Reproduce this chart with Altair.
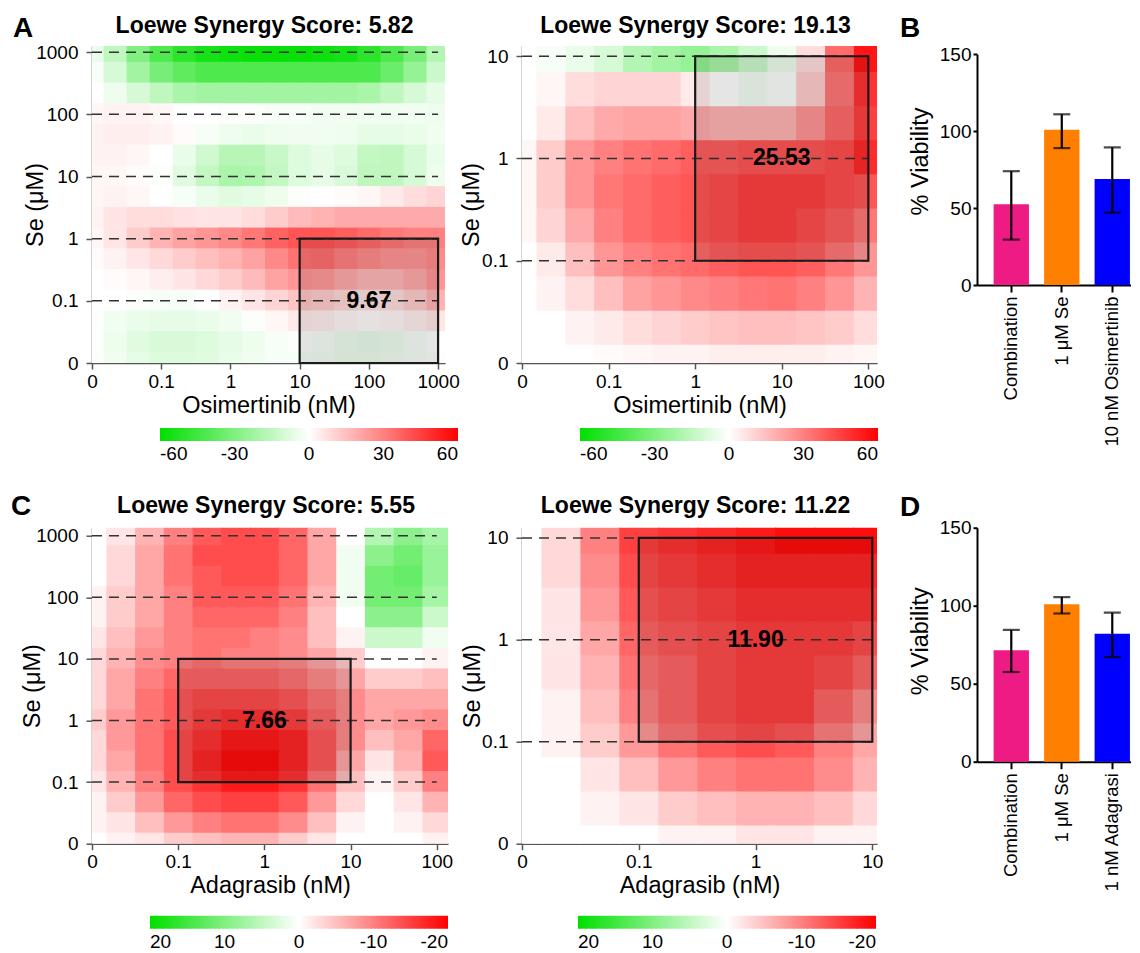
import altair as alt
import pandas as pd

FONT = "Liberation Sans"
GREEN = "#00E000"
RED = "#FF0000"
BAR_COLORS = ["#EF1B85", "#FF8000", "#0000FF"]

# ---------------- Panel A left: Se (0-1000 uM) x Osimertinib (0-1000 nM) -------------
a1_xlabels = ["0", "0.1", "1", "10", "100", "1000"]
a1_ylabels = ["0", "0.1", "1", "10", "100", "1000"]
# synergy surface read every third of a decade; rows from Se=1000 (top) down to Se=0
a1_z = [
    [-5, -15, -30, -42, -50, -55, -57, -58, -58, -58, -57, -55, -50, -42, -32, -18],
    [-2, -10, -22, -32, -38, -42, -42, -42, -42, -42, -42, -42, -42, -35, -25, -12],
    [0, -4, -10, -15, -20, -22, -22, -22, -22, -22, -22, -22, -20, -15, -10, -6],
    [2, 3, 3, 2, 0, 0, -1, -1, -2, -2, -3, -3, -3, -3, -3, -4],
    [3, 4, 4, 3, 1, -2, -4, -5, -4, -3, -3, -4, -6, -6, -5, -3],
    [3, 3, 2, 0, -5, -11, -17, -17, -13, -8, -6, -8, -14, -15, -10, -5],
    [2, 2, 1, -1, -7, -14, -20, -19, -14, -8, -6, -9, -15, -15, -10, -4],
    [2, 3, 2, 0, -2, -5, -7, -6, -4, -1, 0, 1, 2, 5, 8, 10],
    [3, 6, 8, 8, 7, 6, 6, 8, 12, 16, 18, 20, 20, 20, 20, 20],
    [2, 6, 12, 18, 22, 25, 28, 32, 37, 40, 40, 38, 35, 32, 30, 30],
    [1, 3, 6, 9, 12, 15, 18, 22, 28, 33, 34, 30, 27, 25, 25, 27],
    [0, 1, 2, 4, 6, 9, 12, 16, 22, 25, 24, 20, 17, 17, 20, 25],
    [0, 0, -1, -2, -2, 0, 3, 6, 10, 14, 12, 9, 7, 8, 12, 18],
    [-1, -3, -5, -6, -6, -5, -3, -1, 2, 5, 4, 2, 1, 2, 4, 6],
    [-1, -4, -7, -9, -9, -8, -6, -4, -2, -1, -2, -4, -5, -4, -2, 0],
    [-1, -3, -6, -8, -8, -7, -5, -3, -2, -2, -3, -4, -4, -3, -2, -1],
]
a1_step = 1 / 3
a1_box = ("10", "1000", "0", "1")
a1_box_label = "9.67"
a1_title = "Loewe Synergy Score: 5.82"

# ---------------- Panel A right: Se (0-10 uM) x Osimertinib (0-100 nM) ----------------
a2_xlabels = ["0", "0.1", "1", "10", "100"]
a2_ylabels = ["0", "0.1", "1", "10"]
# read every third of a decade; rows from Se=10 (top) down to Se=0
a2_z = [
    [0, -2, -5, -10, -18, -22, -25, -20, -12, -4, 8, 35, 55],
    [0, 2, 8, 10, 10, 10, 5, 0, -3, -1, 12, 32, 48],
    [0, 5, 15, 20, 22, 22, 20, 18, 18, 18, 25, 35, 45],
    [2, 12, 25, 30, 33, 35, 38, 38, 40, 40, 40, 42, 50],
    [2, 12, 25, 32, 35, 38, 40, 42, 45, 45, 45, 42, 40],
    [2, 10, 20, 30, 35, 38, 40, 42, 45, 45, 42, 38, 32],
    [0, 5, 15, 25, 30, 33, 35, 38, 40, 40, 38, 32, 25],
    [0, 3, 8, 15, 22, 25, 28, 30, 32, 33, 30, 25, 18],
    [0, 0, 3, 5, 8, 10, 12, 14, 15, 15, 14, 12, 8],
    [0, 0, 0, 1, 2, 3, 3, 4, 4, 4, 4, 3, 2],
]
a2_step = 1 / 3
a2_box = ("1", "100", "0.1", "10")
a2_box_label = "25.53"
a2_title = "Loewe Synergy Score: 19.13"

# ---------------- Panel C left: Se (0-1000 uM) x Adagrasib (0-100 nM) -----------------
c1_xlabels = ["0", "0.1", "1", "10", "100"]
c1_ylabels = ["0", "0.1", "1", "10", "100", "1000"]
c1_z = [
    [0, -2, -6, -10, -13, -14, -14, -12, -7, 0, 6, 9, 7],
    [0, -3, -7, -11, -14, -14, -14, -12, -7, 1, 9, 11, 8],
    [0, -3, -7, -11, -13, -14, -14, -12, -7, 1, 11, 12, 8],
    [-1, -4, -7, -10, -13, -13, -13, -11, -6, 1, 11, 11, 7],
    [-1, -4, -7, -10, -12, -12, -12, -10, -5, 0, 9, 9, 4],
    [-2, -5, -8, -10, -11, -11, -10, -9, -5, -1, 4, 4, 1],
    [-3, -6, -9, -10, -11, -10, -10, -9, -7, -4, 0, 0, -1],
    [-3, -7, -10, -12, -12, -12, -12, -11, -9, -7, -4, -4, -5],
    [-3, -7, -11, -13, -14, -14, -14, -13, -11, -9, -7, -7, -7],
    [-4, -8, -11, -13, -15, -16, -16, -15, -12, -9, -7, -8, -9],
    [-3, -8, -11, -14, -16, -18, -18, -17, -13, -9, -5, -7, -12],
    [-3, -7, -11, -14, -17, -19, -19, -17, -13, -7, -2, -6, -13],
    [-2, -6, -10, -14, -16, -18, -18, -16, -11, -5, -1, -4, -10],
    [-1, -4, -8, -12, -14, -15, -15, -13, -8, -3, 0, -2, -6],
    [-1, -2, -5, -8, -10, -11, -11, -9, -5, -1, 0, -1, -3],
    [0, -1, -2, -4, -5, -6, -6, -4, -2, 0, 0, 0, -1],
]
c1_step = 1 / 3
c1_box = ("0.1", "10", "0.1", "10")
c1_box_label = "7.66"
c1_title = "Loewe Synergy Score: 5.55"

# ---------------- Panel C right: Se (0-10 uM) x Adagrasib (0-10 nM) -------------------
c2_xlabels = ["0", "0.1", "1", "10"]
c2_ylabels = ["0", "0.1", "1", "10"]
c2_z = [
    [0, -3, -10, -15, -16, -17, -18, -19, -19, -19],
    [0, -3, -9, -14, -15, -16, -17, -17, -17, -17],
    [0, -2, -8, -13, -14, -15, -16, -16, -16, -16],
    [0, -2, -7, -12, -13, -14, -15, -15, -15, -14],
    [0, -2, -6, -11, -12, -14, -15, -15, -14, -12],
    [0, -1, -5, -10, -12, -14, -15, -15, -12, -9],
    [0, -1, -4, -8, -11, -13, -14, -13, -10, -7],
    [0, 0, -2, -5, -8, -10, -11, -11, -9, -6],
    [0, 0, -1, -2, -4, -5, -6, -6, -5, -3],
    [0, 0, 0, 0, -1, -1, -2, -2, -1, -1],
]
c2_step = 1 / 3
c2_box = ("0.1", "10", "0.1", "10")
c2_box_label = "11.90"
c2_title = "Loewe Synergy Score: 11.22"

# ---------------- Bar panels ----------------
b_cats = ["Combination", "1 μM Se", "10 nM Osimertinib"]
b_vals = [52.5, 101, 69]
b_lo = [29.5, 89, 47]
b_hi = [74, 111, 89.5]

d_cats = ["Combination", "1 μM Se", "1 nM Adagrasi"]
d_vals = [71.5, 101, 82]
d_lo = [57.5, 95, 67]
d_hi = [84.5, 105.5, 95.5]

EPS = 0.012


def cells_df(z, step):
    n = len(z)
    recs = []
    for i, row in enumerate(z):
        v = (n - 1 - i) * step
        for j, val in enumerate(row):
            u = j * step
            recs.append({"x": u - step / 2, "x2": u + step / 2 + EPS,
                         "y": v - step / 2, "y2": v + step / 2 + EPS, "z": val})
    return pd.DataFrame(recs)


def arr_expr(labels):
    return "[" + ",".join("'%s'" % s for s in labels) + "][datum.value]"


HEAT_AXIS = dict(domainColor="#555555", domainWidth=1.5, tickColor="#555555",
                 tickWidth=1.5, tickSize=6, labelFontSize=19, titleFontSize=23.5,
                 grid=False, labelFont=FONT, titleFont=FONT, labelColor="black",
                 titleColor="black", titleFontWeight="normal",
                 labelFlush=False, labelOverlap=False)


def text_layer(txt, px, py, size, align):
    return alt.Chart(pd.DataFrame({"t": [txt]})).mark_text(
        font=FONT, fontSize=size, fontWeight="bold", color="black", align=align,
        baseline="alphabetic").encode(x=alt.value(px), y=alt.value(py), text="t:N")


def heat_panel(z, step, xlabels, ylabels, xmax, ymax, w, h, title, xtitle,
               box, box_label, letter, letter_pos, cdomain, cvalues, legend_pos,
               title_offset, ytitle_x):
    nx = len(xlabels) - 1
    ny = len(ylabels) - 1
    xs = alt.Scale(domain=[0, xmax], nice=False, zero=False)
    ys = alt.Scale(domain=[0, ymax], nice=False, zero=False)
    xaxis = alt.Axis(values=list(range(nx + 1)), labelExpr=arr_expr(xlabels),
                     title=xtitle, labelPadding=3, titleBaseline="alphabetic",
                     titleY=49, **HEAT_AXIS)
    yaxis = alt.Axis(values=list(range(ny + 1)), labelExpr=arr_expr(ylabels),
                     title="Se (μM)", labelPadding=8, titleX=ytitle_x,
                     titleBaseline="bottom", **HEAT_AXIS)
    cells = cells_df(z, step)
    heat = alt.Chart(cells).mark_rect(clip=True).encode(
        x=alt.X("x:Q", scale=xs, axis=xaxis),
        x2="x2:Q",
        y=alt.Y("y:Q", scale=ys, axis=yaxis),
        y2="y2:Q",
        color=alt.Color(
            "z:Q",
            scale=alt.Scale(domain=cdomain, range=[GREEN, "#FFFFFF", RED], interpolate="rgb"),
            legend=alt.Legend(orient="none", legendX=legend_pos[0], legendY=legend_pos[1],
                              direction="horizontal", gradientLength=298,
                              gradientThickness=13, title=None, values=cvalues,
                              labelFontSize=19, labelFont=FONT, labelColor="black",
                              gradientStrokeWidth=0, padding=0, labelOffset=4,
                              labelOverlap=False, labelExpr="datum.value + ''"),
        ),
    )
    lines = pd.DataFrame({"x": [0] * ny, "x2": [nx] * ny, "y": list(range(1, ny + 1))})
    rules = alt.Chart(lines).mark_rule(color="#333333", strokeWidth=1.5, strokeDash=[10, 7]).encode(
        x=alt.X("x:Q", scale=xs), x2="x2:Q", y=alt.Y("y:Q", scale=ys))
    bx = pd.DataFrame({"x": [xlabels.index(box[0])], "x2": [xlabels.index(box[1])],
                       "y": [ylabels.index(box[2])], "y2": [ylabels.index(box[3])]})
    bx["cx"] = (bx["x"] + bx["x2"]) / 2
    bx["cy"] = (bx["y"] + bx["y2"]) / 2
    bx["t"] = box_label
    boxm = alt.Chart(bx).mark_rect(fill="black", fillOpacity=0.1, stroke="#1a1a1a", strokeWidth=2.2).encode(
        x=alt.X("x:Q", scale=xs), x2="x2:Q", y=alt.Y("y:Q", scale=ys), y2="y2:Q")
    lab = alt.Chart(bx).mark_text(font=FONT, fontSize=23, fontWeight="bold", color="black",
                                  align="center", baseline="middle").encode(
        x=alt.X("cx:Q", scale=xs), y=alt.Y("cy:Q", scale=ys), text="t:N")
    layers = [heat, rules, boxm, lab, text_layer(title, w / 2 - 4, -title_offset, 23, "center")]
    if letter:
        layers.append(text_layer(letter, letter_pos[0], letter_pos[1], 28, "left"))
    return alt.layer(*layers).properties(width=w, height=h)


BAR_AXIS = dict(domainColor="black", domainWidth=2, tickColor="black", tickWidth=2,
                grid=False, labelFont=FONT, titleFont=FONT, labelColor="black",
                titleColor="black", titleFontWeight="normal")


def bar_panel(cats, vals, lo, hi, h, yrange, letter, letter_pos, title_y):
    df = pd.DataFrame({"cat": cats, "val": vals, "lo": lo, "hi": hi})
    xsc = alt.Scale(paddingInner=0.3, paddingOuter=0.175, align=0.94)
    ysc = alt.Scale(domain=[0, 150], nice=False, zero=True, range=yrange)
    xaxis = alt.Axis(title=None, labelAngle=-90, labelFontSize=18.5, labelPadding=4,
                     tickSize=7, **BAR_AXIS)
    yaxis = alt.Axis(values=[0, 50, 100, 150], title="% Viability", titleFontSize=23.5,
                     labelFontSize=19, tickSize=4, labelPadding=2, titleX=-45,
                     titleY=title_y, titleBaseline="bottom", **BAR_AXIS)
    xenc = alt.X("cat:N", sort=cats, scale=xsc, axis=xaxis)
    xenc2 = alt.X("cat:N", sort=cats, scale=xsc)
    bars = alt.Chart(df).mark_bar().encode(
        x=xenc, y=alt.Y("val:Q", scale=ysc, axis=yaxis),
        color=alt.Color("cat:N", scale=alt.Scale(domain=cats, range=BAR_COLORS), legend=None))
    err = alt.Chart(df).mark_rule(color="black", strokeWidth=2.2).encode(
        x=xenc2, y=alt.Y("lo:Q", scale=ysc), y2="hi:Q")
    cap_lo = alt.Chart(df).mark_tick(color="black", thickness=2.2, size=17).encode(
        x=xenc2, y=alt.Y("lo:Q", scale=ysc))
    cap_hi = alt.Chart(df).mark_tick(color="black", thickness=2.2, size=17).encode(
        x=xenc2, y=alt.Y("hi:Q", scale=ysc))
    let = text_layer(letter, letter_pos[0], letter_pos[1], 28, "left")
    return alt.layer(bars, err, cap_lo, cap_hi, let).properties(width=154, height=h)


def spacer(w):
    return alt.Chart(pd.DataFrame({"s": [0]})).mark_point(opacity=0).encode(
        x=alt.X("s:Q", axis=None), y=alt.Y("s:Q", axis=None)).properties(width=w, height=1)


a1 = heat_panel(a1_z, a1_step, a1_xlabels, a1_ylabels, 5.1, 5.1, 353, 317, a1_title,
                "Osimertinib (nM)", a1_box, a1_box_label, "A", (-79, -9),
                [-60, 0, 60], [-60, -30, 0, 30, 60], (68, 382), 13, -45)
a2 = heat_panel(a2_z, a2_step, a2_xlabels, a2_ylabels, 4.1, 3.1, 355, 317, a2_title,
                "Osimertinib (nM)", a2_box, a2_box_label, "", (0, 0),
                [-60, 0, 60], [-60, -30, 0, 30, 60], (58, 382), 13, -39)
c1 = heat_panel(c1_z, c1_step, c1_xlabels, c1_ylabels, 4.13, 5.13, 356, 316, c1_title,
                "Adagrasib (nM)", c1_box, c1_box_label, "C", (-81, -12.7),
                [20, 0, -20], [20, 10, 0, -10, -20], (58, 388), 15, -48)
c2 = heat_panel(c2_z, c2_step, c2_xlabels, c2_ylabels, 3.04, 3.1, 355, 316, c2_title,
                "Adagrasib (nM)", c2_box, c2_box_label, "", (0, 0),
                [20, 0, -20], [20, 10, 0, -10, -20], (56, 388), 15, -38)
b = bar_panel(b_cats, b_vals, b_lo, b_hi, 239, [239, 8.3], "B", (-77, -9), 115)
d = bar_panel(d_cats, d_vals, d_lo, d_hi, 234, [234, 0], "D", (-77, -12), 113)

chart = alt.concat(
    a1, spacer(74), a2, spacer(99.7), b,
    c1, spacer(74), c2, spacer(99.7), d,
    columns=5, spacing={"row": 164.7, "column": 0}, bounds="flush",
).resolve_scale(color="independent", x="independent", y="independent").properties(
    padding={"left": 3, "top": 7, "right": 0, "bottom": 0}
).configure_view(stroke=None)

chart.save("out.html", embed_options={"renderer": "svg", "actions": False})
